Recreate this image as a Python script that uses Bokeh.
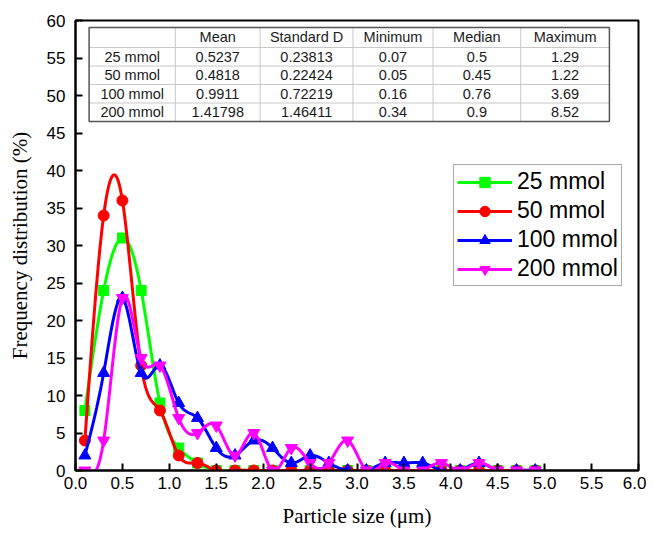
import numpy as np
from bokeh.plotting import figure
from bokeh.models import FixedTicker, Legend, LegendItem
from bokeh.core.properties import value
from bokeh.embed import file_html
from bokeh.resources import INLINE

# ---------------- data ----------------
size_um = [0.1, 0.3, 0.5, 0.7, 0.9, 1.1, 1.3, 1.5, 1.7, 1.9, 2.1, 2.3, 2.5,
           2.7, 2.9, 3.1, 3.3, 3.5, 3.7, 3.9, 4.1, 4.3, 4.5, 4.7, 4.9]
freq_25 = [8, 24, 31, 24, 9, 3, 1, 0, 0, 0, 0, 0, 0,
           0, 0, 0, 0, 0, 0, 0, 0, 0, 0, 0, 0]
freq_50 = [4, 34, 36, 14, 8, 2, 1, 0, 0, 0, 0, 0, 0,
           0, 0, 0, 0, 0, 0, 0, 0, 0, 0, 0, 0]
freq_100 = [2, 13, 23, 13, 14, 9, 7, 3, 2, 4, 3, 1, 2,
            1, 0, 0, 1, 1, 1, 0, 0, 1, 0, 0, 0]
freq_200 = [0, 4, 23, 15, 14, 7, 5, 6, 2, 5, 0, 3, 1,
            1, 4, 0, 1, 0, 0, 1, 0, 1, 0, 0, 0]

series_names = ["25 mmol", "50 mmol", "100 mmol", "200 mmol"]

table_header = ["", "Mean", "Standard D", "Minimum", "Median", "Maximum"]
table_mean = ["0.5237", "0.4818", "0.9911", "1.41798"]
table_std = ["0.23813", "0.22424", "0.72219", "1.46411"]
table_min = ["0.07", "0.05", "0.16", "0.34"]
table_median = ["0.5", "0.45", "0.76", "0.9"]
table_max = ["1.29", "1.22", "3.69", "8.52"]

x_ticks = [0.0, 0.5, 1.0, 1.5, 2.0, 2.5, 3.0, 3.5, 4.0, 4.5, 5.0, 5.5, 6.0]
x_tick_labels = ["0.0", "0.5", "1.0", "1.5", "2.0", "2.5", "3.0", "3.5",
                 "4.0", "4.5", "5.0", "5.5", "6.0"]
y_ticks = [0, 5, 10, 15, 20, 25, 30, 35, 40, 45, 50, 55, 60]


def natural_spline(x, y, n=24):
    x = np.asarray(x, float)
    y = np.asarray(y, float)
    m = len(x)
    h = np.diff(x)
    A = np.zeros((m, m))
    b = np.zeros(m)
    A[0, 0] = 1.0
    A[-1, -1] = 1.0
    for i in range(1, m - 1):
        A[i, i - 1] = h[i - 1]
        A[i, i] = 2 * (h[i - 1] + h[i])
        A[i, i + 1] = h[i]
        b[i] = 6 * ((y[i + 1] - y[i]) / h[i] - (y[i] - y[i - 1]) / h[i - 1])
    M = np.linalg.solve(A, b)
    xs, ys = [], []
    for i in range(m - 1):
        t = np.linspace(x[i], x[i + 1], n, endpoint=(i == m - 2))
        a = x[i + 1] - t
        c = t - x[i]
        s = (M[i] * a ** 3 / (6 * h[i]) + M[i + 1] * c ** 3 / (6 * h[i])
             + (y[i] / h[i] - M[i] * h[i] / 6) * a
             + (y[i + 1] / h[i] - M[i + 1] * h[i] / 6) * c)
        xs.extend(t.tolist())
        ys.extend(s.tolist())
    return xs, ys


p = figure(width=646, height=534, x_range=(0, 6), y_range=(0, 60),
           output_backend="svg", toolbar_location=None,
           min_border_left=75, min_border_right=8, min_border_top=20,
           min_border_bottom=64)
p.background_fill_color = "white"
p.border_fill_color = "white"
p.outline_line_color = "black"
p.outline_line_width = 2
p.xgrid.visible = False
p.ygrid.visible = False

for ax in (p.xaxis[0], p.yaxis[0]):
    ax.axis_line_width = 2
    ax.axis_line_color = "black"
    ax.major_tick_in = 7
    ax.major_tick_out = 0
    ax.major_tick_line_width = 2
    ax.minor_tick_line_color = None
    ax.major_label_text_font = "Liberation Sans"
    ax.major_label_text_font_size = "17px"
    ax.major_label_text_color = "black"
    ax.axis_label_text_font = "Liberation Serif"
    ax.axis_label_text_font_style = "normal"
    ax.axis_label_text_font_size = "21px"
    ax.axis_label_text_color = "black"

p.xaxis.ticker = FixedTicker(ticks=x_ticks)
p.xaxis.major_label_overrides = {t: l for t, l in zip(x_ticks, x_tick_labels)}
p.yaxis.ticker = FixedTicker(ticks=y_ticks)
p.xaxis.axis_label = "Particle size (\u03bcm)"
p.yaxis.axis_label = "Frequency distribution (%)"
p.xaxis.major_label_standoff = 6
p.xaxis.axis_label_standoff = 12
p.yaxis.major_label_standoff = 10
p.yaxis.axis_label_standoff = 12

# ---------------- table ----------------
col_edges = [0.145, 1.064, 1.968, 2.957, 3.81, 4.745, 5.69]
row_edges = [59.07, 56.4, 53.93, 51.47, 49.0, 46.53]
p.quad(left=col_edges[0], right=col_edges[-1], top=row_edges[0],
       bottom=row_edges[-1], fill_color="white", line_color=None)
p.segment(x0=[col_edges[0]] * 4, x1=[col_edges[-1]] * 4,
          y0=row_edges[1:5], y1=row_edges[1:5], line_color="#c8c8c8", line_width=1)
p.segment(x0=col_edges[1:6], x1=col_edges[1:6],
          y0=[row_edges[0]] * 5, y1=[row_edges[-1]] * 5, line_color="#c8c8c8", line_width=1)
p.quad(left=col_edges[0], right=col_edges[-1], top=row_edges[0],
       bottom=row_edges[-1], fill_color=None, line_color="#555555", line_width=1.5)

cx = [(col_edges[i] + col_edges[i + 1]) / 2 for i in range(6)]
cy = [(row_edges[i] + row_edges[i + 1]) / 2 for i in range(5)]
columns = [series_names, table_mean, table_std, table_min, table_median, table_max]
tx, ty, tt = [], [], []
for j in range(6):
    tx.append(cx[j]); ty.append(cy[0]); tt.append(table_header[j])
    for i in range(4):
        tx.append(cx[j]); ty.append(cy[i + 1]); tt.append(columns[j][i])
p.text(x=tx, y=ty, text=tt, text_font=value("Liberation Sans"),
       text_font_size="14.5px", text_align="center", text_baseline="middle",
       text_color="#1a1a1a")

# ---------------- curves ----------------
colors = ["#00ff00", "#ff0000", "#0000ff", "#ff00ff"]
markers = ["square", "circle", "triangle", "inverted_triangle"]
msizes = [10, 11, 12, 12]
datasets = [freq_25, freq_50, freq_100, freq_200]
items = []
for name, col, mk, ms, d in zip(series_names, colors, markers, msizes, datasets):
    sx, sy = natural_spline(size_um, d)
    ln = p.line(sx, sy, line_color=col, line_width=3)
    sc = p.scatter(size_um, d, marker=mk, size=ms, fill_color=col, line_color=col)
    items.append(LegendItem(label=name, renderers=[ln, sc]))

legend = Legend(items=items, location=(378, 184))
legend.label_text_font = "Liberation Sans"
legend.label_text_font_size = "23px"
legend.label_text_color = "black"
legend.glyph_width = 55
legend.glyph_height = 26
legend.label_height = 26
legend.label_standoff = 5
legend.spacing = 2
legend.padding = 3
legend.margin = 0
legend.border_line_color = "#555555"
legend.border_line_width = 1.5
legend.background_fill_color = "white"
legend.background_fill_alpha = 1.0
p.add_layout(legend)

open("out.html", "w").write(file_html(p, INLINE))
